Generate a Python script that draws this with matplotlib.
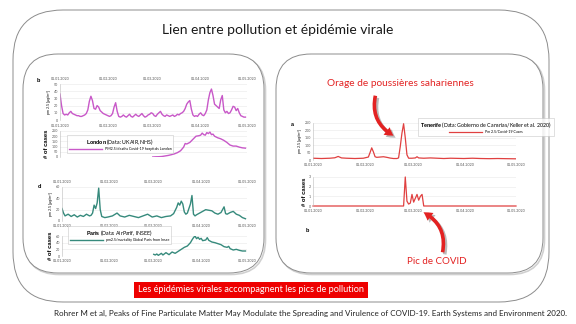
import numpy as np
import matplotlib
matplotlib.use("Agg")
import matplotlib.pyplot as plt
from matplotlib.patches import FancyBboxPatch, FancyArrowPatch
import matplotlib.patheffects as pe

plt.rcParams['font.family'] = ['Lato', 'DejaVu Sans']
plt.rcParams['mathtext.fontset'] = 'custom'
plt.rcParams['mathtext.bf'] = 'Liberation Sans:bold'
plt.rcParams['mathtext.rm'] = 'Liberation Sans'

# x axis = day of year 2020 (0 = 1 January)
date_ticks = [0, 31, 60, 91, 121]
date_labels = ['01.01.2020', '01.02.2020', '01.03.2020', '01.04.2020', '01.05.2020']

# London, daily pm 2.5
london_pm = [36, 20, 9, 7, 8, 7, 10, 12, 9, 8,
             7, 6, 6, 5, 5, 6, 7, 9, 14, 26,
             33, 27, 16, 15, 20, 18, 13, 11, 9, 8,
             7, 6, 5, 6, 9, 18, 24, 12, 5, 4,
             5, 7, 5, 4, 6, 8, 5, 4, 6, 8,
             6, 5, 7, 9, 6, 4, 5, 7, 8, 10,
             9, 6, 5, 8, 10, 12, 8, 6, 5, 7,
             6, 5, 6, 7, 5, 6, 8, 7, 9, 10,
             12, 16, 22, 25, 27, 15, 7, 5, 6, 5,
             8, 10, 7, 6, 9, 14, 28, 38, 43, 34,
             22, 20, 18, 16, 28, 34, 14, 10, 12, 9,
             10, 14, 19, 18, 13, 16, 10, 6, 5, 4,
             4]
london_cases_days = [60, 62, 64, 66, 68, 70, 72, 74, 76, 78, 80, 81, 82, 84, 86, 88, 90, 91, 92,
                     93, 94, 95, 96, 97, 98, 99, 100, 102, 104, 106, 108, 110, 112, 114, 116, 118, 120]
london_cases = [0, 2, 3, 5, 10, 15, 22, 30, 42, 60, 95, 130, 125, 140, 170, 200, 205, 210, 230,
                215, 210, 235, 225, 240, 215, 220, 200, 185, 175, 160, 140, 115, 105, 105, 95, 88, 85]

# Paris
paris_pm_days = [0, 1, 2, 4, 6, 8, 10, 12, 14, 16, 18, 19, 20, 21, 22, 23, 24, 25, 26, 28, 30,
                 33, 36, 38, 41, 44, 47, 50, 53, 56, 59, 62, 65, 68, 71, 73, 75, 76, 77, 78, 79,
                 80, 81, 82, 84, 85, 86, 87, 88, 90, 92, 94, 96, 98, 100, 102, 104, 106, 107,
                 108, 110, 112, 114, 116, 118, 120]
paris_pm = [22, 14, 9, 12, 8, 11, 7, 10, 8, 12, 9, 10, 14, 28, 22, 32, 58, 20, 8, 6, 7,
            9, 14, 9, 7, 10, 8, 6, 9, 12, 7, 9, 6, 8, 9, 13, 24, 32, 28, 35, 30,
            16, 12, 14, 30, 45, 12, 9, 11, 14, 17, 20, 19, 18, 14, 12, 15, 25, 13,
            12, 15, 17, 12, 10, 6, 4]
paris_cases_days = [60, 61, 62, 63, 65, 66, 68, 70, 72, 74, 76, 78, 80, 82, 84, 85, 86, 87, 88,
                    89, 90, 91, 92, 94, 95, 96, 98, 100, 102, 104, 106, 108, 109, 110, 112, 114,
                    116, 118, 120]
paris_cases = [5, 3, 6, 2, 8, 3, 10, 4, 12, 8, 14, 20, 26, 30, 40, 48, 55, 60, 52,
               56, 50, 53, 46, 48, 55, 47, 42, 40, 37, 34, 28, 26, 29, 22, 18, 20,
               17, 15, 15]

# Tenerife
tenerife_pm_days = [0, 5, 10, 13, 15, 17, 20, 25, 30, 33, 34, 35, 36, 37, 38, 40, 42, 44, 46,
                    48, 50, 51, 52, 53, 54, 55, 56, 57, 59, 61, 62, 63, 66, 70, 74, 78, 82, 86,
                    90, 95, 100, 105, 110, 115, 121]
tenerife_pm = [12, 10, 12, 15, 24, 14, 12, 10, 12, 20, 50, 82, 55, 22, 18, 20, 22, 18, 13,
               10, 10, 14, 90, 180, 245, 150, 35, 12, 12, 14, 22, 14, 12, 14, 12, 10, 12, 11,
               10, 12, 10, 9, 10, 9, 8]
tenerife_cases_days = [0, 54, 55, 56, 57, 58, 59, 60, 61, 62, 63, 64, 65, 66, 121]
tenerife_cases = [0, 0, 3, 0.5, 0.2, 0.3, 1.2, 0.4, 0.8, 1.2, 0.6, 1.0, 1.2, 0, 0]

W, H = 576, 324
fig = plt.figure(figsize=(W / 100, H / 100), dpi=100)
fig.patch.set_facecolor('white')


def px_axes(left, top, right, bottom, **kw):
    return fig.add_axes([left / W, 1 - bottom / H, (right - left) / W, (bottom - top) / H], **kw)


# slide background with rounded frames
bg = px_axes(0, 0, W, H)
bg.set_xlim(0, W)
bg.set_ylim(H, 0)
bg.axis('off')


def frame(x0, y0, x1, y1, r, shadow=False):
    if shadow:
        bg.add_patch(FancyBboxPatch((x0 + 1.5, y0 + 1.5), x1 - x0, y1 - y0,
                                    boxstyle=f'round,pad=0,rounding_size={r}',
                                    fc='none', ec='#d0d0d0', lw=1.2))
    bg.add_patch(FancyBboxPatch((x0, y0), x1 - x0, y1 - y0,
                                boxstyle=f'round,pad=0,rounding_size={r}',
                                fc='white', ec='#8c8c8c', lw=0.7))


frame(13, 10, 549, 302, 50)
frame(23, 54, 264, 273, 35, shadow=True)
frame(276, 54, 543, 273, 35, shadow=True)

bg.text(278, 30, 'Lien entre pollution et épidémie virale', fontsize=10,
        ha='center', va='center', color='#1a1a1a')
bg.text(251, 290, 'Les épidémies virales accompagnent les pics de pollution', fontsize=6.6,
        ha='center', va='center', color='white',
        bbox=dict(facecolor='#ee0000', edgecolor='none', boxstyle='square,pad=0.4'))
bg.text(311, 313, 'Rohrer M et al, Peaks of Fine Particulate Matter May Modulate the Spreading '
        'and Virulence of COVID-19. Earth Systems and Environment 2020.',
        fontsize=5.8, ha='center', va='center', color='#222222')

tick_fs = 2.6


def style(ax, ymax, ystep, ylabel, top_labels=False, bottom_labels=True, bold=False):
    ax.set_facecolor('none')
    ax.set_xlim(0, 121)
    ax.set_ylim(0, ymax)
    ax.set_yticks(np.arange(0, ymax + 0.01, ystep))
    ax.set_xticks(date_ticks)
    ax.set_xticklabels(date_labels)
    ax.tick_params(axis='both', labelsize=tick_fs, length=0, pad=1.5, colors='#555555')
    ax.tick_params(axis='x', labeltop=top_labels, labelbottom=bottom_labels, pad=2.5)
    ax.grid(axis='y', color='#e8e8e8', lw=0.4)
    for s in ['top', 'right', 'bottom']:
        ax.spines[s].set_visible(False)
    ax.spines['left'].set_color('#bbbbbb')
    ax.spines['left'].set_linewidth(0.4)
    if bold:
        ax.set_ylabel(ylabel, fontsize=4.2, fontweight='bold', labelpad=1.5, family='Liberation Sans')
    else:
        ax.set_ylabel(ylabel, fontsize=2.6, labelpad=1.5, family='Liberation Sans')


def add_legend(ax, line, title, label, anchor):
    leg = ax.legend([line], [label], title=title, loc='upper left',
                    bbox_to_anchor=(anchor[0] / W, 1 - anchor[1] / H),
                    bbox_transform=fig.transFigure, fontsize=2.6, title_fontsize=3.8,
                    handlelength=9, frameon=True, fancybox=False, borderpad=0.6,
                    labelspacing=0.1, borderaxespad=0)
    leg.get_frame().set_edgecolor('#bbbbbb')
    leg.get_frame().set_linewidth(0.4)
    return leg


pink = '#c858c8'
teal = '#368a7c'
red_line = '#e04040'

# London
ax = px_axes(60, 84, 247, 120)
ax.plot(np.arange(len(london_pm)), london_pm, color=pink, lw=1.0)
style(ax, 50, 10, 'pm 2.5 [µg/m³]', top_labels=True, bottom_labels=False)
ax = px_axes(60, 131, 247, 157)
ln, = ax.plot(london_cases_days, london_cases, color=pink, lw=1.0)
style(ax, 250, 50, '# of cases', top_labels=True, bottom_labels=False, bold=True)
add_legend(ax, ln, r'$\bf{London}$ (Data: UKAIR, NHS)',
           'PM2.5/deaths Covid-19 hospitals London', (67, 135))

# Paris
ax = px_axes(62, 187, 247, 221)
ax.plot(paris_pm_days, paris_pm, color=teal, lw=1.0)
style(ax, 60, 20, 'pm 2.5 [µg/m³]', top_labels=True, bottom_labels=True)
ax = px_axes(62, 236, 247, 256)
ln, = ax.plot(paris_cases_days, paris_cases, color=teal, lw=1.0)
style(ax, 60, 20, '# of cases', bold=True)
add_legend(ax, ln, r'$\bf{Paris}$ (Data: AirParif, INSEE)',
           'pm2.5/mortality Global Paris from Insee', (68, 226))

# Tenerife
ax = px_axes(313, 123, 516, 160)
ln, = ax.plot(tenerife_pm_days, tenerife_pm, color=red_line, lw=0.9)
style(ax, 250, 50, 'pm 2.5 [µg/m³]')
add_legend(ax, ln, r'$\bf{Tenerife}$ (Data: Gobierno de Canarias/Keller et al. 2020)',
           'Pm 2.5/Covid-19 Cases', (418, 118))
ax = px_axes(313, 177, 516, 206)
ax.plot(tenerife_cases_days, tenerife_cases, color=red_line, lw=0.9, clip_on=False)
style(ax, 3, 1, '# of cases', bold=True)

# overlay: panel letters, annotations and arrows
top = px_axes(0, 0, W, H)
top.set_xlim(0, W)
top.set_ylim(H, 0)
top.axis('off')
for x, y, s in [(38, 80, 'b'), (39, 186, 'd'), (292, 125, 'a'), (307, 230, 'b')]:
    top.text(x, y, s, fontsize=4, fontweight='bold', ha='center', va='center',
             family='Liberation Sans')

ann_red = '#e32222'
top.text(400, 83, 'Orage de poussières sahariennes', fontsize=7.3, color=ann_red,
         ha='center', va='center')
top.text(437, 262, 'Pic de COVID', fontsize=7.0, color=ann_red, ha='center', va='center')

shadow = [pe.SimplePatchShadow(offset=(1.5, -1.5), shadow_rgbFace='#777777', alpha=0.5),
          pe.Normal()]
for tail, tip in [((376, 93), (396, 137)), ((442, 255), (421, 211))]:
    arr = FancyArrowPatch(tail, tip, connectionstyle='arc3,rad=0.4',
                          arrowstyle='simple,head_length=6,head_width=7,tail_width=2.6',
                          mutation_scale=1, color=ann_red, lw=0)
    arr.set_path_effects(shadow)
    top.add_patch(arr)

fig.savefig('out.png', dpi=100)
